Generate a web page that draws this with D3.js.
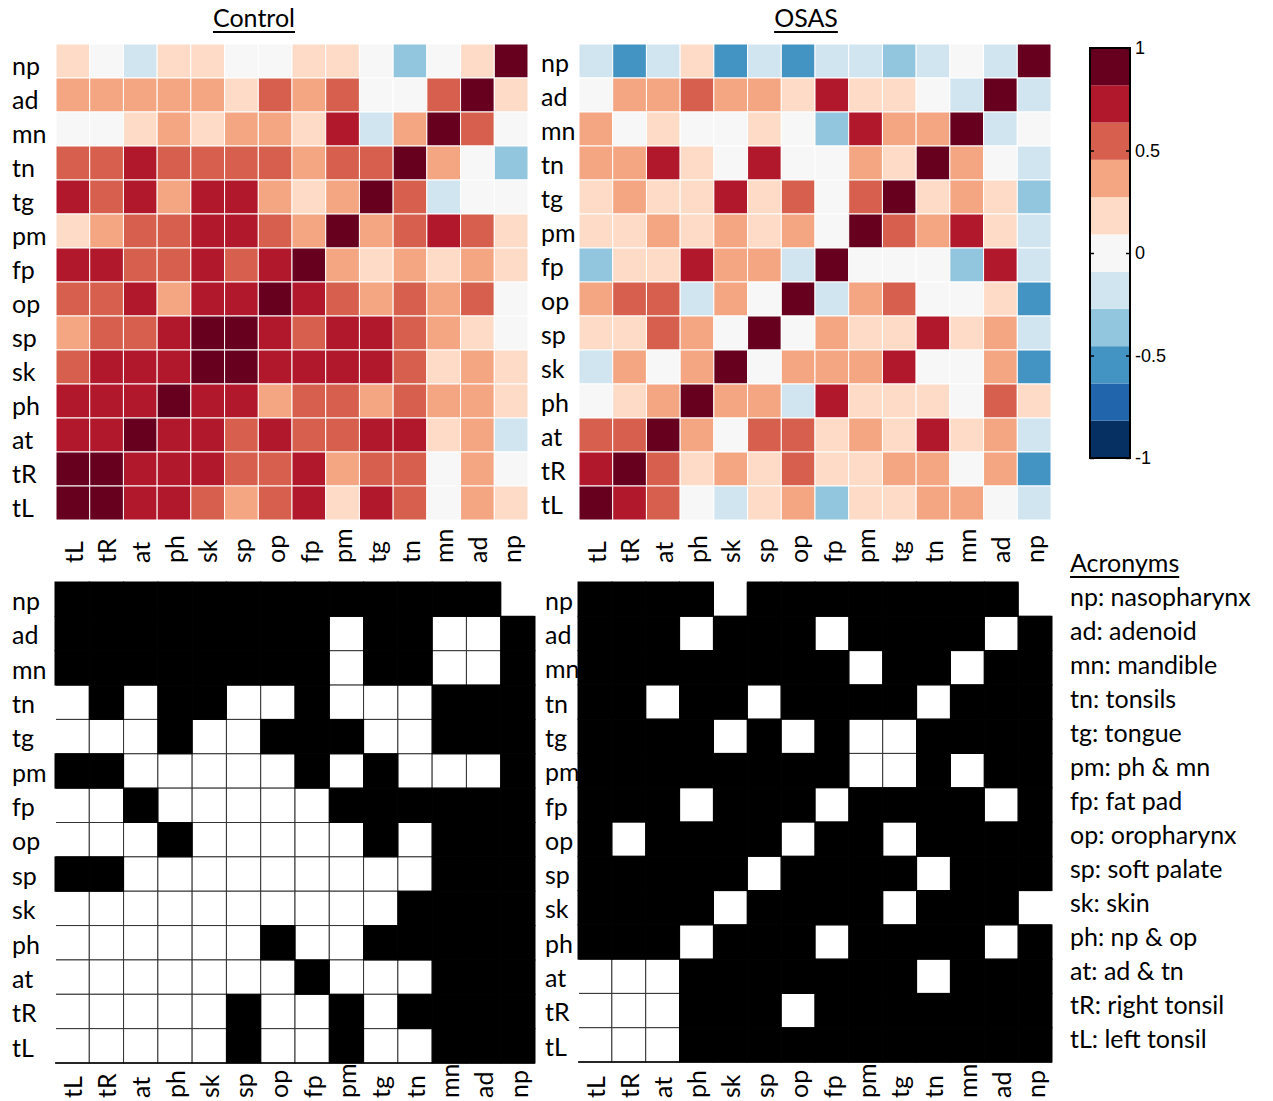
<!DOCTYPE html>
<html><head><meta charset="utf-8">
<script src="https://cdn.jsdelivr.net/npm/d3@7"></script>
<style>body{margin:0;background:#fff} svg{display:block}</style>
</head><body><svg id="c" width="1273" height="1101"></svg>
<script>
// ---------------- data ----------------
const rowLabels = ["np","ad","mn","tn","tg","pm","fp","op","sp","sk","ph","at","tR","tL"];
const colLabels = ["tL","tR","at","ph","sk","sp","op","fp","pm","tg","tn","mn","ad","np"];

// Correlation estimates (rows = rowLabels, columns = colLabels)
const controlCorr = [
  [0.2,0,-0.2,0.2,0.2,0,0,0.2,0.2,0,-0.35,0,0.2,1],
  [0.35,0.35,0.35,0.35,0.35,0.2,0.55,0.35,0.55,0,0,0.55,1,0.2],
  [0,0,0.2,0.35,0.2,0.35,0.35,0.2,0.7,-0.2,0.35,1,0.55,0],
  [0.55,0.55,0.7,0.55,0.55,0.55,0.55,0.35,0.55,0.55,1,0.35,0,-0.35],
  [0.7,0.55,0.7,0.35,0.7,0.7,0.35,0.2,0.35,1,0.55,-0.2,0,0],
  [0.2,0.35,0.55,0.55,0.7,0.7,0.55,0.35,1,0.35,0.55,0.7,0.55,0.2],
  [0.7,0.7,0.55,0.55,0.7,0.55,0.7,1,0.35,0.2,0.35,0.2,0.35,0.2],
  [0.55,0.55,0.7,0.35,0.7,0.7,1,0.7,0.55,0.35,0.55,0.35,0.55,0],
  [0.35,0.55,0.55,0.7,0.9,1,0.7,0.55,0.7,0.7,0.55,0.35,0.2,0],
  [0.55,0.7,0.7,0.7,1,0.9,0.7,0.7,0.7,0.7,0.55,0.2,0.35,0.2],
  [0.7,0.7,0.7,1,0.7,0.7,0.35,0.55,0.55,0.35,0.55,0.35,0.35,0.2],
  [0.7,0.7,1,0.7,0.7,0.55,0.7,0.55,0.55,0.7,0.7,0.2,0.35,-0.2],
  [0.9,1,0.7,0.7,0.7,0.55,0.55,0.7,0.35,0.55,0.55,0,0.35,0],
  [1,0.9,0.7,0.7,0.55,0.35,0.55,0.7,0.2,0.7,0.55,0,0.35,0.2]
];
const osasCorr = [
  [-0.2,-0.55,-0.2,0.2,-0.55,-0.2,-0.55,-0.2,-0.2,-0.35,-0.2,0,-0.2,1],
  [0,0.35,0.35,0.55,0.35,0.35,0.2,0.7,0.2,0.2,0,-0.2,1,-0.2],
  [0.35,0,0.2,0,0,0.2,0,-0.35,0.7,0.35,0.35,1,-0.2,0],
  [0.35,0.35,0.7,0.2,0,0.7,0,0,0.35,0.2,1,0.35,0,-0.2],
  [0.2,0.35,0.2,0.2,0.7,0.2,0.55,0,0.55,1,0.2,0.35,0.2,-0.35],
  [0.2,0.2,0.35,0.2,0.35,0.2,0.35,0,1,0.55,0.35,0.7,0.2,-0.2],
  [-0.35,0.2,0.2,0.7,0.35,0.35,-0.2,1,0,0,0,-0.35,0.7,-0.2],
  [0.35,0.55,0.55,-0.2,0.35,0,1,-0.2,0.35,0.55,0,0,0.2,-0.55],
  [0.2,0.2,0.55,0.35,0,1,0,0.35,0.2,0.2,0.7,0.2,0.35,-0.2],
  [-0.2,0.35,0,0.35,1,0,0.35,0.35,0.35,0.7,0,0,0.35,-0.55],
  [0,0.2,0.35,1,0.35,0.35,-0.2,0.7,0.2,0.2,0.2,0,0.55,0.2],
  [0.55,0.55,1,0.35,0,0.55,0.55,0.2,0.35,0.2,0.7,0.2,0.35,-0.2],
  [0.7,1,0.55,0.2,0.35,0.2,0.55,0.2,0.2,0.35,0.35,0,0.35,-0.55],
  [1,0.7,0.55,0,-0.2,0.2,0.35,-0.35,0.2,0.2,0.35,0.35,0,-0.2]
];

// Binary maps (1 = black, 0 = white)
const controlSig = [
  [1,1,1,1,1,1,1,1,1,1,1,1,1,0],
  [1,1,1,1,1,1,1,1,0,1,1,0,0,1],
  [1,1,1,1,1,1,1,1,0,1,1,0,0,1],
  [0,1,0,1,1,0,0,1,0,0,0,1,1,1],
  [0,0,0,1,0,0,1,1,1,0,0,1,1,1],
  [1,1,0,0,0,0,0,1,0,1,0,0,0,1],
  [0,0,1,0,0,0,0,0,1,1,1,1,1,1],
  [0,0,0,1,0,0,0,0,0,1,0,1,1,1],
  [1,1,0,0,0,0,0,0,0,0,0,1,1,1],
  [0,0,0,0,0,0,0,0,0,0,1,1,1,1],
  [0,0,0,0,0,0,1,0,0,1,1,1,1,1],
  [0,0,0,0,0,0,0,1,0,0,0,1,1,1],
  [0,0,0,0,0,1,0,0,1,0,1,1,1,1],
  [0,0,0,0,0,1,0,0,1,0,0,1,1,1]
];
const osasSig = [
  [1,1,1,1,0,1,1,1,1,1,1,1,1,0],
  [1,1,1,0,1,1,1,0,1,1,1,1,0,1],
  [1,1,1,1,1,1,1,1,0,1,1,0,1,1],
  [1,1,0,1,1,0,1,1,1,1,0,1,1,1],
  [1,1,1,1,0,1,0,1,0,0,1,1,1,1],
  [1,1,1,1,1,1,1,1,0,0,1,0,1,1],
  [1,1,1,0,1,1,1,0,1,1,1,1,0,1],
  [1,0,1,1,1,1,0,1,1,0,1,1,1,1],
  [1,1,1,1,1,0,1,1,1,1,0,1,1,1],
  [1,1,1,1,0,1,1,1,1,0,1,1,1,0],
  [1,1,1,0,1,1,1,0,1,1,1,1,0,1],
  [0,0,0,1,1,1,1,1,1,1,0,1,1,1],
  [0,0,0,1,1,1,0,1,1,1,1,1,1,1],
  [0,0,0,1,1,1,1,1,1,1,1,1,1,1]
];

const colorbarTicks = [-1, -0.5, 0, 0.5, 1];
const panelTitles = ["Control", "OSAS"];
const acronymTitle = "Acronyms";
const acronyms = ["np: nasopharynx","ad: adenoid","mn: mandible","tn: tonsils","tg: tongue","pm: ph & mn",
  "fp: fat pad","op: oropharynx","sp: soft palate","sk: skin","ph: np & op","at: ad & tn","tR: right tonsil","tL: left tonsil"];
const palette = ["#053061","#2166ac","#4393c3","#92c5de","#d1e5f0","#f7f7f7","#fddbc7","#f4a582","#d6604d","#b2182b","#67001f"];

// ---------------- drawing ----------------
const svg = d3.select("#c");
const FONT = "Lato, 'Open Sans', sans-serif";
const FS = 25;
const color = d3.scaleQuantize().domain([-1, 1]).range(palette);

function drawMatrix(o) {
  const g = svg.append("g");
  const x = d3.scaleBand().domain(colLabels).range([o.x0, o.x0 + o.w]);
  const y = d3.scaleBand().domain(rowLabels).range([o.y0, o.y0 + o.h]);
  // labels first (matrix drawn over them)
  g.append("g").selectAll("text").data(rowLabels).join("text")
    .attr("x", o.labelX).attr("y", d => y(d) + y.bandwidth() / 2 + o.labelShift).attr("dy", "0.35em")
    .attr("font-family", FONT).attr("font-size", FS).attr("fill", "#000").text(d => d);
  g.append("g").selectAll("text").data(colLabels).join("text")
    .attr("transform", d => `translate(${x(d) + x.bandwidth() / 2 + 1},${o.colBottom}) rotate(-90)`)
    .attr("dy", "0.35em").attr("text-anchor", "start")
    .attr("font-family", FONT).attr("font-size", FS).attr("fill", "#000").text(d => d);

  const cells = [];
  o.data.forEach((row, i) => row.forEach((v, j) => cells.push({r: rowLabels[i], c: colLabels[j], v})));

  if (o.type === "heat") {
    g.append("g").selectAll("rect").data(cells).join("rect")
      .attr("x", d => x(d.c)).attr("y", d => y(d.r))
      .attr("width", x.bandwidth()).attr("height", y.bandwidth())
      .attr("fill", d => color(d.v)).attr("stroke", "#fff").attr("stroke-width", 1);
  } else {
    const id = "clip" + Math.round(o.x0);
    svg.append("clipPath").attr("id", id).append("rect")
      .attr("x", o.x0 + 1).attr("y", o.y0 + 1).attr("width", o.w - 2).attr("height", o.h);
    g.append("g").attr("clip-path", `url(#${id})`).selectAll("rect")
      .data(cells.filter(d => !d.v)).join("rect")
      .attr("x", d => x(d.c)).attr("y", d => y(d.r))
      .attr("width", x.bandwidth()).attr("height", y.bandwidth())
      .attr("fill", "#fff").attr("stroke", "#333").attr("stroke-width", 1);
    g.append("g").selectAll("rect").data(cells.filter(d => d.v)).join("rect")
      .attr("x", d => x(d.c)).attr("y", d => y(d.r))
      .attr("width", x.bandwidth()).attr("height", y.bandwidth())
      .attr("fill", "#000").attr("stroke", "#000").attr("stroke-width", 1);
    g.append("line").attr("x1", o.x0).attr("x2", o.x0 + o.w)
      .attr("y1", o.y0 + o.h).attr("y2", o.y0 + o.h).attr("stroke", "#000").attr("stroke-width", 1.5);
  }
}

drawMatrix({type: "heat", data: controlCorr, x0: 56, y0: 44, w: 472, h: 476, labelX: 12, labelShift: 5, colBottom: 563});
drawMatrix({type: "heat", data: osasCorr, x0: 579, y0: 44, w: 472, h: 476, labelX: 541, labelShift: 2, colBottom: 563});
drawMatrix({type: "bin", data: controlSig, x0: 55, y0: 582, w: 480, h: 481, labelX: 12, labelShift: 2, colBottom: 1098});
drawMatrix({type: "bin", data: osasSig, x0: 578, y0: 582, w: 474, h: 480, labelX: 545, labelShift: 2, colBottom: 1098});

// titles with underline
function underlined(txt, x, y, anchor, size) {
  const t = svg.append("text").attr("x", x).attr("y", y).attr("text-anchor", anchor)
    .attr("font-family", FONT).attr("font-size", size).attr("fill", "#000").text(txt);
  const len = t.node().getComputedTextLength();
  const x1 = anchor === "middle" ? x - len / 2 : x;
  svg.append("line").attr("x1", x1).attr("x2", x1 + len).attr("y1", y + 5).attr("y2", y + 5)
    .attr("stroke", "#000").attr("stroke-width", 2);
}
underlined(panelTitles[0], 254, 27, "middle", 25);
underlined(panelTitles[1], 806, 27, "middle", 25);

// colorbar
const cb = {x: 1090, y0: 48, y1: 458, w: 40};
const cbY = d3.scaleLinear().domain([-1, 1]).range([cb.y1, cb.y0]);
svg.append("g").selectAll("rect").data(palette).join("rect")
  .attr("x", cb.x).attr("width", cb.w)
  .attr("y", d => cbY(color.invertExtent(d)[1]))
  .attr("height", d => cbY(color.invertExtent(d)[0]) - cbY(color.invertExtent(d)[1]))
  .attr("fill", d => d);
svg.append("rect").attr("x", cb.x).attr("y", cb.y0).attr("width", cb.w).attr("height", cb.y1 - cb.y0)
  .attr("fill", "none").attr("stroke", "#000").attr("stroke-width", 2);
const axR = svg.append("g").attr("transform", `translate(${cb.x + cb.w},0)`)
  .call(d3.axisRight(cbY).tickValues(colorbarTicks).tickSize(-4).tickPadding(5).tickFormat(d => String(d)));
const axL = svg.append("g").attr("transform", `translate(${cb.x},0)`)
  .call(d3.axisLeft(cbY).tickValues(colorbarTicks).tickSize(-4).tickFormat(""));
[axR, axL].forEach(a => {
  a.select(".domain").remove();
  a.selectAll("line").attr("stroke", "#000").attr("stroke-width", 1.5);
  a.selectAll("text").attr("font-family", "'Liberation Sans', Arial, sans-serif").attr("font-size", 18).attr("fill", "#000");
});

// acronyms
underlined(acronymTitle, 1070, 572, "start", FS);
svg.append("g").selectAll("text").data(acronyms).join("text")
  .attr("x", 1070).attr("y", (d, i) => 606 + i * 34)
  .attr("font-family", FONT).attr("font-size", FS).attr("fill", "#000").text(d => d);
</script></body></html>
